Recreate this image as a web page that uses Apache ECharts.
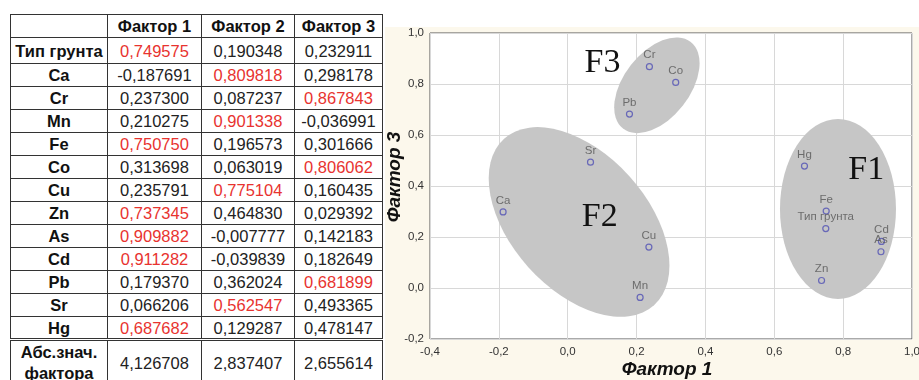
<!DOCTYPE html>
<html><head><meta charset="utf-8">
<script src="https://cdn.jsdelivr.net/npm/echarts@6/dist/echarts.min.js"></script>
<style>
html,body{margin:0;padding:0;width:919px;height:380px;overflow:hidden;background:#fff;}
#tbl{position:absolute;left:10px;top:14px;border-collapse:collapse;table-layout:fixed;font-family:"Liberation Sans",Arial,sans-serif;font-size:16.5px;color:#222;}
#tbl td{border:1px solid #333;padding:0;text-align:center;vertical-align:middle;white-space:nowrap;line-height:18px;}
#tbl td.b{font-weight:bold;color:#111;}
#tbl td.r{color:#e8332f;}
#tbl tr.last td{border-top:3px double #333;line-height:21px;vertical-align:top;padding-top:1px;}
#chart{position:absolute;left:385px;top:27px;width:534px;height:353px;background:#fcf8ec;}
</style></head>
<body>
<table id="tbl"></table>
<div id="chart"></div>
<script>
// ---- data ----
const variables = ['Тип грунта','Ca','Cr','Mn','Fe','Co','Cu','Zn','As','Cd','Pb','Sr','Hg'];
const factorHeaders = ['Фактор 1','Фактор 2','Фактор 3'];
const factor1 = [0.749575,-0.187691,0.237300,0.210275,0.750750,0.313698,0.235791,0.737345,0.909882,0.911282,0.179370,0.066206,0.687682];
const factor2 = [0.190348,0.809818,0.087237,0.901338,0.196573,0.063019,0.775104,0.464830,-0.007777,-0.039839,0.362024,0.562547,0.129287];
const factor3 = [0.232911,0.298178,0.867843,-0.036991,0.301666,0.806062,0.160435,0.029392,0.142183,0.182649,0.681899,0.493365,0.478147];
const eigenLabel = ['Абс.знач.','фактора'];
const eigenValues = [4.126708,2.837407,2.655614];
const clusterLabels = ['F1','F2','F3'];

// ---- table ----
const fmt = v => v.toFixed(6).replace('.', ',');
const tbl = document.getElementById('tbl');
const colW = [97,94,93,88];
let html = '<colgroup>' + colW.map(w => '<col style="width:'+w+'px">').join('') + '</colgroup>';
html += '<tr style="height:23px"><td></td>' + factorHeaders.map(h => '<td class="b">'+h+'</td>').join('') + '</tr>';
variables.forEach((v,i) => {
  const vals = [factor1[i], factor2[i], factor3[i]];
  const mx = Math.max(...vals);
  html += '<tr style="height:' + (i===0?26:23) + 'px"><td class="b">'+v+'</td>' +
    vals.map(x => '<td' + (x===mx?' class="r"':'') + '>' + fmt(x) + '</td>').join('') + '</tr>';
});
html += '<tr class="last" style="height:46px"><td class="b">'+eigenLabel.join('<br>')+'</td>' +
  eigenValues.map(x => '<td style="vertical-align:middle;padding-top:0">'+fmt(x)+'</td>').join('') + '</tr>';
tbl.innerHTML = html;

// ---- chart ----
const ellipses = [
  {label:clusterLabels[0], cx:0.785, cy:0.310, rx:58, ry:90, rot:0,   tx:0.867, ty:0.462},
  {label:clusterLabels[1], cx:0.033, cy:0.259, rx:112, ry:68, rot:-48, tx:0.093, ty:0.279},
  {label:clusterLabels[2], cx:0.259, cy:0.795, rx:55, ry:33, rot:52,  tx:0.101, ty:0.882}
];
const lab = v => { if (Math.abs(v) < 1e-9) v = 0; return v.toFixed(1).replace('.', ','); };
const font = '"Liberation Sans", Arial, sans-serif';
const chart = echarts.init(document.getElementById('chart'), null, {renderer:'canvas'});
chart.setOption({
  animation:false,
  grid:{left:45, top:6, right:7, bottom:41, containLabel:false, outerBoundsMode:'none',
        show:true, backgroundColor:'#fff', borderColor:'#555', borderWidth:1},
  xAxis:{type:'value', min:-0.4, max:1.0, interval:0.2,
    axisLine:{show:false}, axisTick:{show:false},
    splitLine:{lineStyle:{color:'#d8d8d8', width:1}},
    axisLabel:{formatter:lab, color:'#333', fontSize:11.5, fontFamily:font, margin:7, hideOverlap:false},
    name:'Фактор 1', nameLocation:'middle', nameGap:21, nameMoveOverlap:false,
    nameTextStyle:{fontFamily:font, fontWeight:'bold', fontStyle:'italic', fontSize:19, color:'#111', padding:[0,8,0,0]}
  },
  yAxis:{type:'value', min:-0.2, max:1.0, interval:0.2,
    axisLine:{show:false}, axisTick:{show:false},
    splitLine:{lineStyle:{color:'#d8d8d8', width:1}},
    axisLabel:{formatter:lab, color:'#333', fontSize:11.5, fontFamily:font, margin:6},
    name:'Фактор 3', nameLocation:'middle', nameGap:26, nameRotate:90, nameMoveOverlap:false,
    nameTextStyle:{fontFamily:font, fontWeight:'bold', fontStyle:'italic', fontSize:19, color:'#111', padding:[0,0,0,18]}
  },
  series:[
    {type:'custom', z:1, clip:false,
     data: ellipses.map(e => [e.cx, e.cy]),
     renderItem:(params, api) => {
       const e = ellipses[params.dataIndex];
       const c = api.coord([e.cx, e.cy]);
       const t = api.coord([e.tx, e.ty]);
       return {type:'group', children:[
         {type:'circle', shape:{cx:0, cy:0, r:100}, x:c[0], y:c[1], scaleX:e.rx/100, scaleY:e.ry/100,
          rotation:e.rot*Math.PI/180, style:{fill:'#c6c6c6'}},
         {type:'text', x:t[0], y:t[1], style:{text:e.label, font:'34px "Liberation Serif", "Times New Roman", serif',
          fill:'#111', align:'center', verticalAlign:'middle'}}
       ]};
     }
    },
    {type:'scatter', z:3, symbol:'circle', symbolSize:6,
     data: variables.map((n,i) => ({name:n, value:[factor1[i], factor3[i]]})),
     itemStyle:{color:'rgba(0,0,0,0)', borderColor:'#5050b4', borderWidth:1.2},
     label:{show:true, position:'top', distance:2, formatter:p => p.name, color:'#555', fontSize:11.5, fontFamily:font}
    }
  ]
});
</script>
</body></html>
